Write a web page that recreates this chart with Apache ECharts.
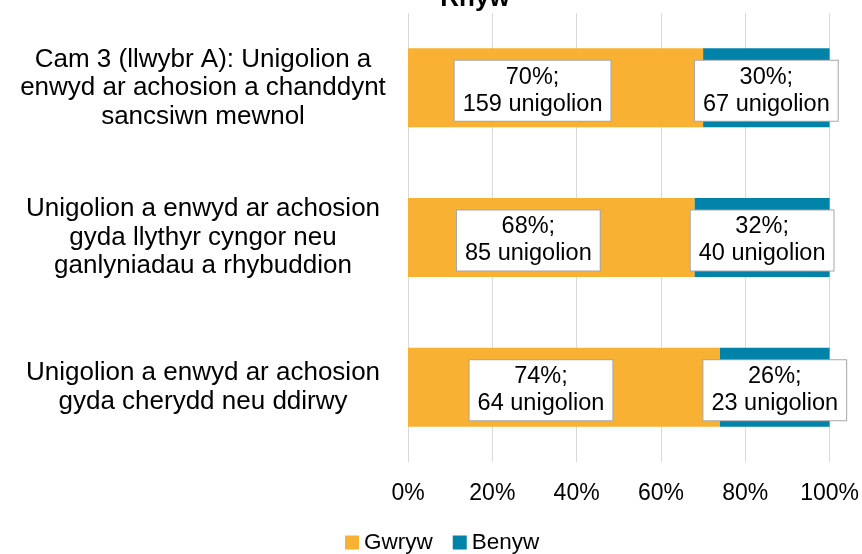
<!DOCTYPE html>
<html>
<head>
<meta charset="utf-8">
<script src="https://cdn.jsdelivr.net/npm/echarts@6/dist/echarts.min.js"></script>
<style>
  html, body { margin: 0; padding: 0; background: #fff; }
  #chart { width: 862px; height: 554px; }
</style>
</head>
<body>
<div id="chart"></div>
<script>
// categories (top to bottom)
var categories = [
  "Cam 3 (llwybr A): Unigolion a\nenwyd ar achosion a chanddynt\nsancsiwn mewnol",
  "Unigolion a enwyd ar achosion\ngyda llythyr cyngor neu\nganlyniadau a rhybuddion",
  "Unigolion a enwyd ar achosion\ngyda cherydd neu ddirwy"
];
// percentages
var gwrywPct = [70, 68, 74];
var benywPct = [30, 32, 26];
// counts of individuals
var gwrywNum = [159, 85, 64];
var benywNum = [67, 40, 23];
var tickLabels = ["0%", "20%", "40%", "60%", "80%", "100%"];

var font = "Liberation Sans, Arial, sans-serif";

var chart = echarts.init(document.getElementById("chart"));

function labelFor(nums, offset) {
  return {
    show: true,
    position: "inside",
    offset: offset,
    fontFamily: font,
    fontSize: 23.5,
    lineHeight: 27,
    color: "#000",
    backgroundColor: "#fff",
    borderColor: "#A6A6A6",
    borderWidth: 1,
    padding: [4, 8, 2, 8],
    formatter: function (p) {
      return p.value + "%;\n" + nums[p.dataIndex] + " unigolion";
    }
  };
}

var options = {
  title: {
    text: "Rhyw",
    left: 470,
    textAlign: "center",
    top: -19,
    textStyle: { fontFamily: font, fontSize: 26, fontWeight: "bold", color: "#000" }
  },
  color: ["#F8B133", "#0082A9"],
  legend: {
    bottom: -5,
    left: 340,
    itemWidth: 14,
    itemHeight: 14,
    itemGap: 20,
    icon: "rect",
    textStyle: { fontFamily: font, fontSize: 22.5, color: "#000" },
    data: ["Gwryw", "Benyw"]
  },
  grid: {
    left: 408,
    right: 31,
    top: 13,
    bottom: 92
  },
  xAxis: {
    type: "value",
    min: 0,
    max: 100,
    interval: 20,
    axisLine: { show: false },
    axisTick: { show: false },
    axisLabel: {
      margin: 20,
      fontFamily: font,
      fontSize: 23,
      color: "#000",
      formatter: function (v) { return tickLabels[v / 20]; }
    },
    splitLine: { lineStyle: { color: "#D9D9D9", width: 1 } }
  },
  yAxis: {
    type: "category",
    inverse: true,
    data: categories,
    axisLine: { show: false },
    axisTick: { show: false },
    axisLabel: {
      margin: 205,
      align: "center",
      fontFamily: font,
      fontSize: 26,
      lineHeight: 28.5,
      color: "#000"
    }
  },
  series: [
    {
      name: "Gwryw",
      type: "bar",
      stack: "total",
      barWidth: 79,
      data: gwrywPct,
      label: labelFor(gwrywNum, [-23, 3])
    },
    {
      name: "Benyw",
      type: "bar",
      stack: "total",
      barWidth: 79,
      data: benywPct,
      label: labelFor(benywNum, [0, 3])
    }
  ]
};

chart.setOption(options);
window.addEventListener("resize", function () {
  chart.resize();
});
</script>
</body>
</html>
